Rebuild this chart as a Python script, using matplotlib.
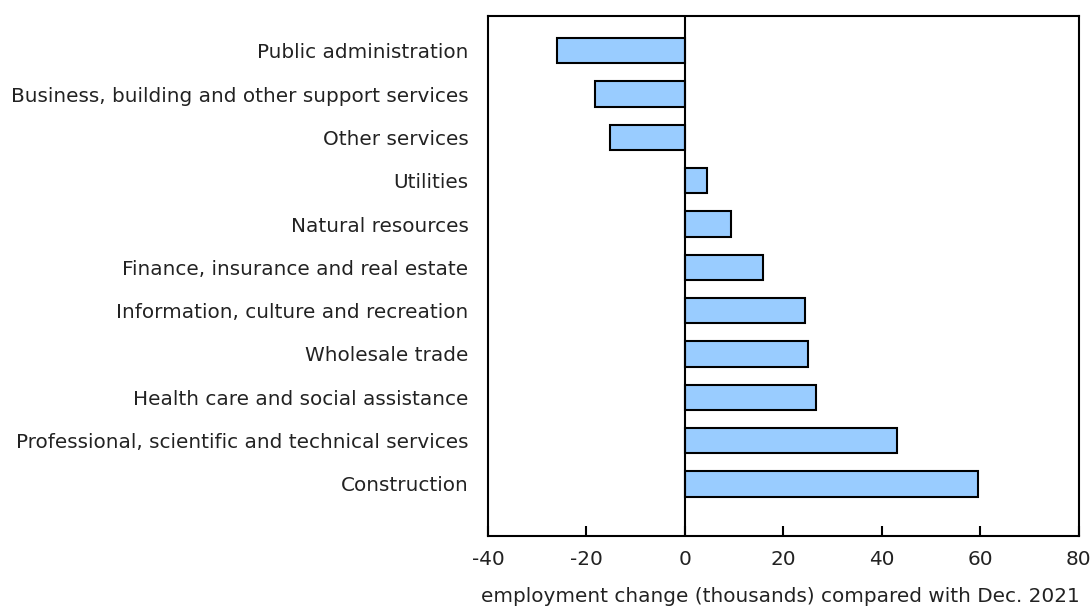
import matplotlib.pyplot as plt
import numpy as np

# data
industries = ['Public administration',
              'Business, building and other support services',
              'Other services',
              'Utilities',
              'Natural resources',
              'Finance, insurance and real estate',
              'Information, culture and recreation',
              'Wholesale trade',
              'Health care and social assistance',
              'Professional, scientific and technical services',
              'Construction']
change = [-26.0, -18.3, -15.2, 4.4, 9.4, 15.8, 24.3, 24.9, 26.6, 43.0, 59.6]
xticks = [-40, -20, 0, 20, 40, 60, 80]

plt.rcParams['font.family'] = ['DejaVu Sans']
plt.rcParams['font.size'] = 14.4

fig = plt.figure(figsize=(10.92, 6.09), dpi=100)
ax = fig.add_axes([0.4469, 0.1199, 0.988 - 0.4469, 0.9737 - 0.1199])

pos = np.arange(len(industries))
ax.barh(pos, change, height=0.59, color='#99CCFF', edgecolor='black', linewidth=1.5, zorder=2)
ax.axvline(0, color='black', linewidth=1.5, zorder=3)

ax.set_xlim(-40, 80)
ax.set_ylim(len(industries) - 1 + 1.2, -0.8)
ax.set_xticks(xticks)
ax.set_xticklabels([str(t) for t in xticks])
ax.set_yticks(pos)
ax.set_yticklabels(industries)

ax.tick_params(axis='y', length=0, pad=14, labelcolor='#222222')
ax.tick_params(axis='x', direction='in', length=7, width=1.5, pad=10, labelcolor='#222222')
for s in ax.spines.values():
    s.set_linewidth(1.5)

ax.set_xlabel('employment change (thousands) compared with Dec. 2021', color='#222222')
ax.xaxis.set_label_coords(1.002, -0.117)
ax.xaxis.label.set_horizontalalignment('right')
ax.xaxis.label.set_verticalalignment('center')

fig.savefig('out.png', dpi=100)
